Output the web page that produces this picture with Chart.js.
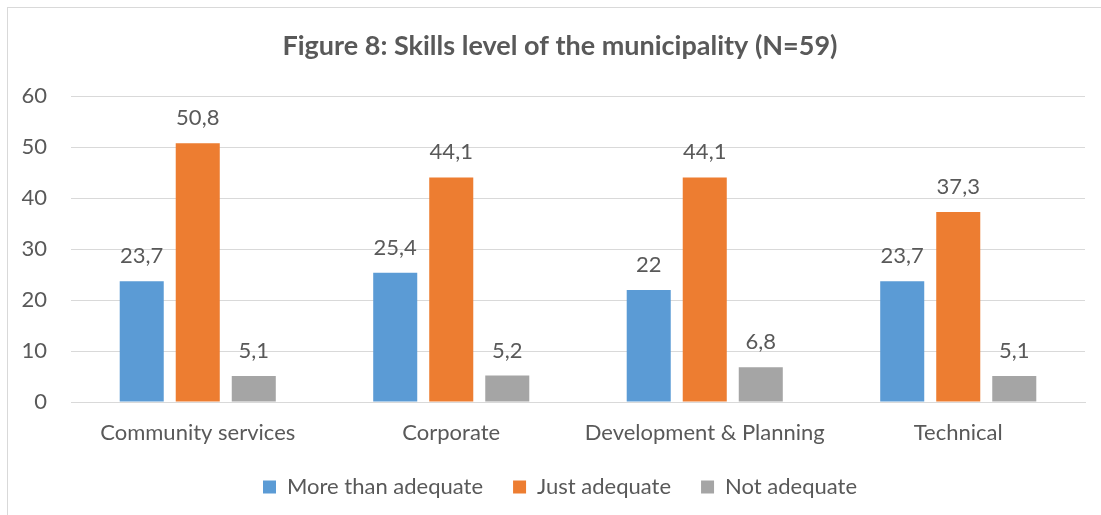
<!DOCTYPE html>
<html>
<head>
<meta charset="utf-8">
<script src="https://cdn.jsdelivr.net/npm/chart.js@4"></script>
<style>
  html, body { margin: 0; padding: 0; background: #fff; }
  #wrap { position: relative; width: 1101px; height: 515px; overflow: hidden; }
  #frame { position: absolute; left: 7px; top: 7px; width: 1200px; height: 600px; border: 1px solid #d9d9d9; pointer-events: none; }
</style>
</head>
<body>
<div id="wrap">
  <canvas id="chart1" width="1120" height="515"></canvas>
  <div id="frame"></div>
</div>
<script>
var categories = ['Community services', 'Corporate', 'Development & Planning', 'Technical'];
var moreThan = [23.7, 25.4, 22, 23.7];
var justAdequate = [50.8, 44.1, 44.1, 37.3];
var notAdequate = [5.1, 5.2, 6.8, 5.1];
var yTicks = [0, 10, 20, 30, 40, 50, 60];

var textColor = '#595959';
var fontName = 'Lato, "Open Sans", sans-serif';

// value labels on top of bars, comma decimals like the original
var valueLabels = {
    id: 'valueLabels',
    afterDatasetsDraw: function (chart) {
        var ctx = chart.ctx;
        ctx.save();
        ctx.font = '22px ' + fontName;
        ctx.fillStyle = textColor;
        ctx.textAlign = 'center';
        ctx.textBaseline = 'middle';
        chart.data.datasets.forEach(function (ds, i) {
            var meta = chart.getDatasetMeta(i);
            meta.data.forEach(function (bar, j) {
                var txt = String(ds.data[j]).replace('.', ',');
                ctx.fillText(txt, bar.x, bar.y - 25);
            });
        });
        ctx.restore();
    }
};

Chart.defaults.font.family = fontName;
Chart.defaults.color = textColor;

var chart = new Chart(document.getElementById('chart1'), {
    type: 'bar',
    data: {
        labels: categories,
        datasets: [
            { label: 'More than adequate', data: moreThan, backgroundColor: '#5B9BD5' },
            { label: 'Just adequate', data: justAdequate, backgroundColor: '#ED7D31' },
            { label: 'Not adequate', data: notAdequate, backgroundColor: '#A5A5A5' }
        ]
    },
    options: {
        responsive: false,
        animation: false,
        devicePixelRatio: 1,
        layout: { padding: { left: 16, right: 16, top: 30, bottom: 9 } },
        datasets: { bar: { categoryPercentage: 0.663, barPercentage: 0.786 } },
        plugins: {
            title: {
                display: true,
                text: 'Figure 8: Skills level of the municipality (N=59)',
                color: textColor,
                font: { size: 27, weight: 'bold' },
                padding: { top: 0, bottom: 34 }
            },
            legend: {
                position: 'bottom',
                maxHeight: 60,
                labels: {
                    boxWidth: 13,
                    boxHeight: 13,
                    padding: 30,
                    font: { size: 22 },
                    color: textColor
                }
            },
            tooltip: { enabled: false }
        },
        scales: {
            x: {
                grid: { display: false, drawTicks: false },
                border: { color: '#d9d9d9' },
                ticks: { font: { size: 22 }, color: textColor, padding: 18 },
                afterFit: function (axis) {
                    axis.height = 44;
                }
            },
            y: {
                min: 0,
                max: 60,
                afterBuildTicks: function (axis) {
                    axis.ticks = yTicks.map(function (v) { return { value: v }; });
                },
                afterFit: function (axis) {
                    axis.width = 55;
                },
                grid: { color: '#d9d9d9', drawTicks: false },
                border: { display: false },
                ticks: { font: { size: 22 }, color: textColor, padding: 24 }
            },
            // empty right axis, only keeps the plot off the right edge
            yRight: {
                position: 'right',
                grid: { display: false, drawTicks: false },
                border: { display: false },
                ticks: { display: false },
                afterFit: function (axis) {
                    axis.width = 19;
                }
            }
        }
    },
    plugins: [valueLabels]
});
</script>
</body>
</html>
